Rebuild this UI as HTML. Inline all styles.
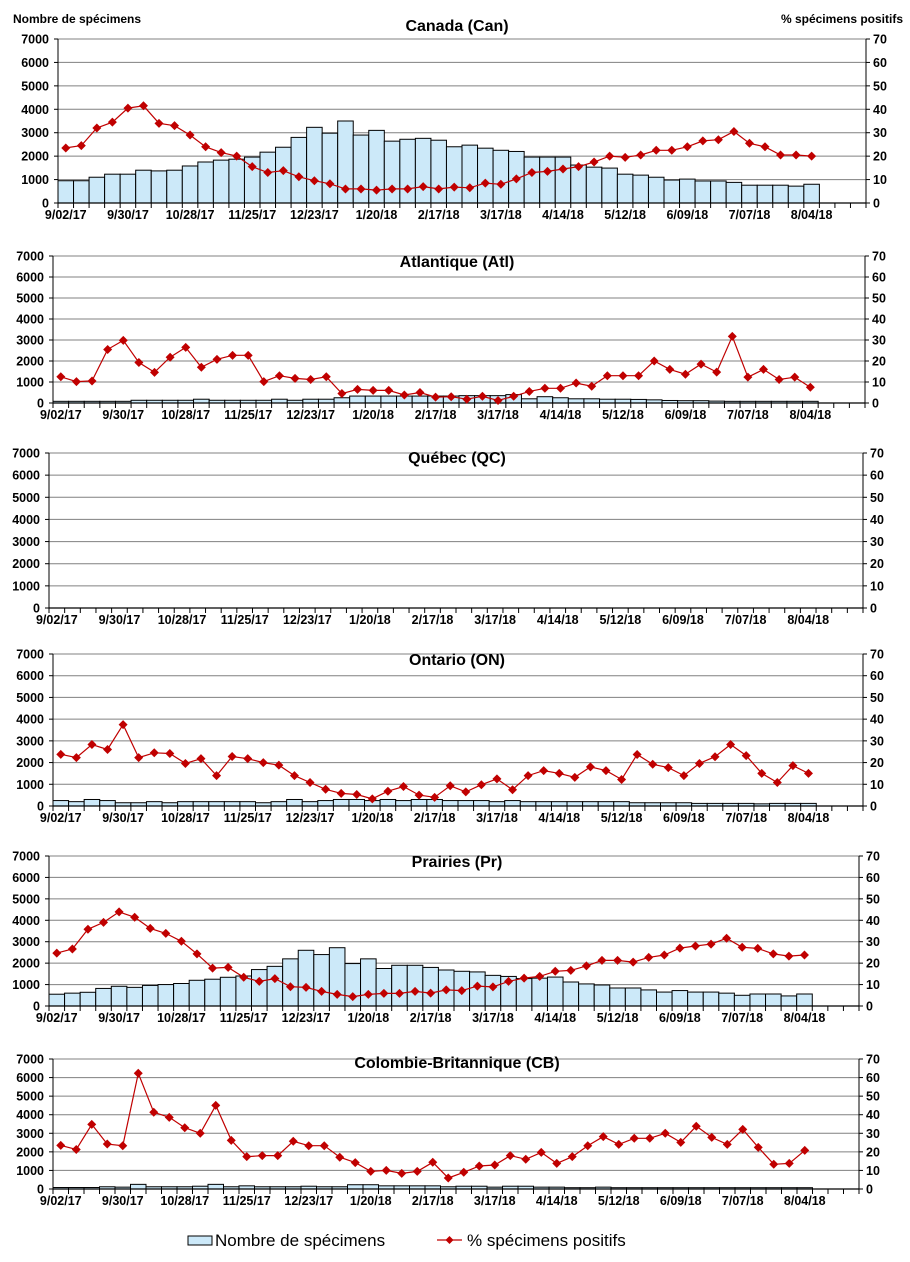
<!DOCTYPE html>
<html><head><meta charset="utf-8">
<style>
html,body{margin:0;padding:0;background:#fff;}
svg{display:block;font-family:"Liberation Sans",Arial,sans-serif;}
</style></head>
<body>
<svg id="chart" width="910" height="1262" viewBox="0 0 910 1262" xmlns="http://www.w3.org/2000/svg">
<text x="13" y="23" font-size="12" font-weight="bold">Nombre de spécimens</text>
<text x="903" y="23" font-size="12" font-weight="bold" text-anchor="end">% spécimens positifs</text>
<g>
<rect x="188" y="1236" width="24" height="9" fill="#cce9f9" stroke="#000" stroke-width="1"/>
<text x="215" y="1246" font-size="17">Nombre de spécimens</text>
<line x1="437" y1="1240" x2="462" y2="1240" stroke="#c00000" stroke-width="1.3"/>
<path d="M449.5 1236 L453.5 1240 L449.5 1244 L445.5 1240 Z" fill="#c00000"/>
<text x="467" y="1246" font-size="17">% spécimens positifs</text>
</g>
</svg>
<script>
const tickLabels = ["9/02/17","9/30/17","10/28/17","11/25/17","12/23/17","1/20/18","2/17/18","3/17/18","4/14/18","5/12/18","6/09/18","7/07/18","8/04/18"];
const yLeftTicks = [0,1000,2000,3000,4000,5000,6000,7000];
const yRightTicks = [0,10,20,30,40,50,60,70];
const regions = ["Canada (Can)","Atlantique (Atl)","Québec (QC)","Ontario (ON)","Prairies (Pr)","Colombie-Britannique (CB)"];

const canBars = [950,950,1100,1230,1230,1400,1370,1400,1580,1750,1830,1870,1960,2170,2380,2800,3230,2980,3500,2900,3100,2640,2720,2760,2680,2400,2470,2340,2250,2200,1960,1960,1960,1620,1530,1490,1230,1190,1100,980,1020,940,940,880,760,760,760,720,800];
const canPct = [23.5,24.5,32,34.5,40.5,41.5,34,33,29,24,21.5,20,15.5,13,13.8,11.2,9.5,8.2,6,6,5.5,6,6,7,6,6.8,6.5,8.5,8,10.3,13,13.5,14.5,15.5,17.5,20,19.5,20.5,22.5,22.5,24,26.5,27,30.5,25.5,24,20.5,20.5,20];
const atlBars = [80,80,80,80,80,130,130,130,130,180,130,130,130,130,180,130,180,180,250,330,330,330,330,330,330,330,350,350,350,400,200,300,250,200,200,180,180,170,150,120,110,110,90,80,80,80,80,80,80];
const atlPct = [12.5,10.2,10.5,25.5,29.8,19.3,14.6,21.8,26.5,17,20.8,22.7,22.7,10.2,13,11.7,11.2,12.5,4.5,6.5,6,6,3.8,5,2.8,3,1.8,3.2,1.2,3.2,5.5,7,7,9.5,8,13,13,13,20,16,13.7,18.5,14.7,31.7,12.3,16,11.2,12.3,7.5];
const qcBars = [];
const qcPct = [];
const onBars = [250,200,300,250,150,150,200,150,200,200,200,200,200,150,200,300,200,250,300,300,250,300,250,300,300,250,250,250,200,250,200,200,200,200,200,200,200,150,150,150,150,120,120,120,120,100,120,120,120];
const onPct = [23.8,22.3,28.3,26,37.5,22.3,24.5,24.2,19.6,21.8,14,22.8,21.8,20,18.8,14,10.8,7.7,5.8,5.3,3.3,6.8,9,5,4,9.3,6.5,9.8,12.5,7.5,14,16.3,15,13.2,18,16.3,12.2,23.7,19.2,17.7,14,19.6,22.7,28.3,23.2,15,10.8,18.6,15];
const prBars = [550,600,640,820,920,870,960,1000,1050,1200,1250,1340,1400,1700,1850,2200,2600,2400,2720,1980,2200,1750,1900,1900,1800,1680,1620,1590,1430,1380,1280,1300,1350,1120,1030,980,840,840,750,650,720,650,650,600,500,560,560,470,560];
const prPct = [24.7,26.6,35.8,39,43.9,41.4,36.2,33.9,30.2,24.3,17.7,18,13.4,11.5,12.8,9,8.7,6.8,5.4,4.4,5.4,5.9,5.9,6.8,6,7.5,7.2,9.3,8.9,11.5,13,13.8,16.2,16.6,18.7,21.3,21.3,20.5,22.7,23.8,27,28,28.9,31.6,27.4,26.9,24.3,23.3,23.8];
const cbBars = [80,80,80,120,100,250,120,120,120,150,250,120,170,120,120,120,150,120,120,230,230,170,170,170,170,120,150,150,100,150,150,100,100,70,70,100,70,70,70,70,70,70,70,70,70,70,70,70,70];
const cbPct = [23.5,21.3,34.8,24.2,23.3,62.3,41.3,38.6,33,30,45,26.2,17.4,18,18,25.7,23.3,23.3,17.1,14.2,9.5,10,8.4,9.5,14.4,5.9,9,12.4,12.9,18,16,19.7,13.8,17.4,23.3,28.2,24,27.3,27.3,30,25.1,33.8,27.8,24,32.1,22.4,13.3,13.8,20.8];

const NSLOTS = 52, LMAX = 7000, RMAX = 70;
const panels = [
  {id:"canada", L:58, R:866, T:39, B:203, ty:31, bars:canBars, pct:canPct},
  {id:"atlantique", L:53, R:865, T:256, B:403, ty:267, bars:atlBars, pct:atlPct},
  {id:"quebec", L:49, R:863, T:453, B:608, ty:463, bars:qcBars, pct:qcPct},
  {id:"ontario", L:53, R:863, T:654, B:806, ty:665, bars:onBars, pct:onPct},
  {id:"prairies", L:49, R:859, T:856, B:1006, ty:867, bars:prBars, pct:prPct},
  {id:"cb", L:53, R:859, T:1059, B:1189, ty:1068, bars:cbBars, pct:cbPct}
];
const NS = "http://www.w3.org/2000/svg";
const svg = document.getElementById("chart");
function mk(tag, attrs, parent){ const e=document.createElementNS(NS,tag); for(const k in attrs) e.setAttribute(k,attrs[k]); parent.appendChild(e); return e; }

panels.forEach((p, pi) => {
  const g = mk("g", {}, svg);
  
  
  const sw = (p.R - p.L) / NSLOTS;
  const xs = i => p.L + i * sw;
  const yl = v => p.B - v / LMAX * (p.B - p.T);
  const yr = v => p.B - v / RMAX * (p.B - p.T);
  // gridlines & y ticks
  yLeftTicks.forEach((v, i) => {
    const y = yl(v);
    if (v > 0) {
      const gl = mk("line", {x1:p.L, x2:p.R, y1:y, y2:y, stroke:"#808080", "stroke-width":1}, g);
      
      
    }
    mk("line", {x1:p.L-4, x2:p.L, y1:y, y2:y, stroke:"#000"}, g);
    const t = mk("text", {x:p.L-9, y:y+4.5, "font-size":12.5, "font-weight":"bold", "text-anchor":"end"}, g);
    
    
    t.textContent = v;
  });
  yRightTicks.forEach(v => {
    const y = yr(v);
    mk("line", {x1:p.R, x2:p.R+4, y1:y, y2:y, stroke:"#000"}, g);
    const t = mk("text", {x:p.R+7, y:y+4.5, "font-size":12.5, "font-weight":"bold"}, g);
    
    
    t.textContent = v;
  });
  // bars
  p.bars.forEach((v, i) => {
    const y = yl(v);
    const r = mk("rect", {x:xs(i), y:y, width:sw, height:p.B - y, fill:"#cce9f9", stroke:"#000", "stroke-width":1}, g);
    
    
  });
  // axes
  mk("line", {x1:p.L, x2:p.L, y1:p.T, y2:p.B, stroke:"#000"}, g);
  mk("line", {x1:p.R, x2:p.R, y1:p.T, y2:p.B, stroke:"#000"}, g);
  mk("line", {x1:p.L, x2:p.R, y1:p.B, y2:p.B, stroke:"#000", "stroke-width":1.3}, g);
  for (let i = 0; i <= NSLOTS; i++) mk("line", {x1:xs(i), x2:xs(i), y1:p.B, y2:p.B+5, stroke:"#000"}, g);
  tickLabels.forEach((lab, k) => {
    const t = mk("text", {x:xs(k*4 + 0.5), y:p.B+16, "font-size":12.5, "font-weight":"bold", "text-anchor":"middle"}, g);
    
    
    t.textContent = lab;
  });
  // line
  if (p.pct.length) {
    const pts = p.pct.map((v, i) => (xs(i + 0.5)).toFixed(1) + "," + yr(v).toFixed(1)).join(" ");
    const pl = mk("polyline", {points:pts, fill:"none", stroke:"#c00000", "stroke-width":1.2}, g);
    
    
    p.pct.forEach((v, i) => {
      const cx = xs(i + 0.5), cy = yr(v);
      const m = mk("path", {d:`M${cx} ${cy-4.5} L${cx+4.5} ${cy} L${cx} ${cy+4.5} L${cx-4.5} ${cy} Z`, fill:"#c00000"}, g);
      
      
    });
  }
  const tt = mk("text", {x:457, y:p.ty, "font-size":16, "font-weight":"bold", "text-anchor":"middle"}, g);
  
  
  tt.textContent = regions[pi];
});
</script>
</body></html>
